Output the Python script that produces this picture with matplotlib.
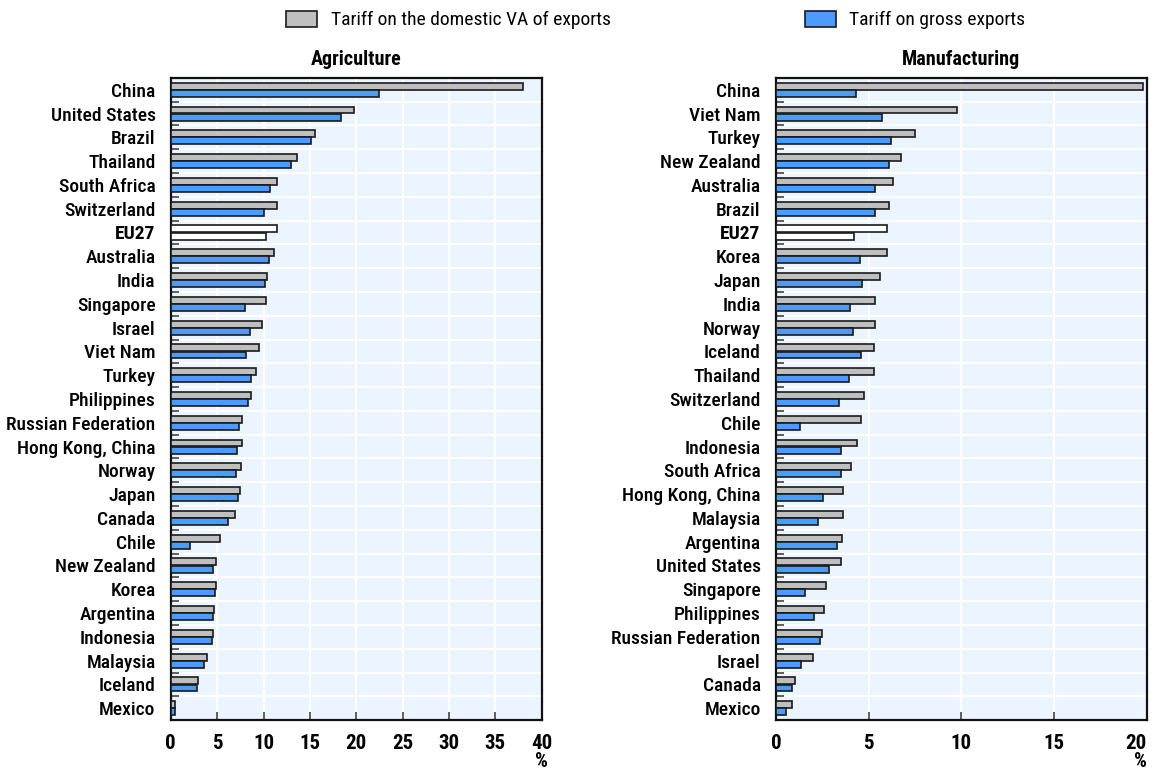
import numpy as np
import matplotlib
matplotlib.use("Agg")
import matplotlib.pyplot as plt
from matplotlib.patches import Patch

plt.rcParams['font.family'] = ['Roboto Condensed', 'Liberation Sans Narrow', 'Roboto', 'DejaVu Sans']

# Agriculture panel (sorted as in the chart, top to bottom)
agri_countries = ["China", "United States", "Brazil", "Thailand", "South Africa", "Switzerland",
                  "EU27", "Australia", "India", "Singapore", "Israel", "Viet Nam", "Turkey",
                  "Philippines", "Russian Federation", "Hong Kong, China", "Norway", "Japan",
                  "Canada", "Chile", "New Zealand", "Korea", "Argentina", "Indonesia",
                  "Malaysia", "Iceland", "Mexico"]
agri_va = [38.0, 19.7, 15.6, 13.6, 11.5, 11.5, 11.4, 11.1, 10.35, 10.3, 9.8, 9.5, 9.15,
           8.7, 7.7, 7.65, 7.6, 7.5, 6.9, 5.35, 4.9, 4.85, 4.7, 4.6, 3.9, 2.9, 0.5]
agri_gross = [22.4, 18.4, 15.1, 13.0, 10.65, 10.0, 10.3, 10.55, 10.2, 8.0, 8.5, 8.1, 8.6,
              8.3, 7.3, 7.1, 7.05, 7.25, 6.2, 2.1, 4.6, 4.75, 4.6, 4.45, 3.55, 2.8, 0.4]

# Manufacturing panel
manu_countries = ["China", "Viet Nam", "Turkey", "New Zealand", "Australia", "Brazil", "EU27",
                  "Korea", "Japan", "India", "Norway", "Iceland", "Thailand", "Switzerland",
                  "Chile", "Indonesia", "South Africa", "Hong Kong, China", "Malaysia",
                  "Argentina", "United States", "Singapore", "Philippines",
                  "Russian Federation", "Israel", "Canada", "Mexico"]
manu_va = [19.8, 9.78, 7.5, 6.75, 6.3, 6.07, 5.98, 5.98, 5.6, 5.33, 5.33, 5.28, 5.28, 4.76,
           4.56, 4.36, 4.07, 3.64, 3.6, 3.55, 3.49, 2.72, 2.57, 2.47, 1.98, 1.0, 0.86]
manu_gross = [4.32, 5.71, 6.2, 6.1, 5.33, 5.33, 4.23, 4.52, 4.66, 4.0, 4.14, 4.57, 3.93, 3.38,
              1.28, 3.53, 3.48, 2.52, 2.25, 3.28, 2.84, 1.57, 2.05, 2.39, 1.35, 0.84, 0.54]

grey = "#BFBFBF"
blue = "#4C9BFF"
bg = "#EBF4FF"

fig = plt.figure(figsize=(11.54, 7.71), dpi=100)
ax1 = fig.add_axes([0.148, 0.066, 0.3215, 0.833])
ax2 = fig.add_axes([0.6724, 0.066, 0.3215, 0.833])


def draw_panel(ax, countries, va, gross, xmax, title, edge_right=False):
    y = np.arange(len(countries))
    h = 0.29
    c_va = [("white" if c == "EU27" else grey) for c in countries]
    c_gr = [("white" if c == "EU27" else blue) for c in countries]
    ax.barh(y - 0.15, va, height=h, color=c_va, edgecolor="#1a1a1a", linewidth=1.2, zorder=3)
    ax.barh(y + 0.15, gross, height=h, color=c_gr, edgecolor="#1a1a1a", linewidth=1.2, zorder=3)
    ax.set_facecolor(bg)
    ax.set_xlim(0, xmax)
    ax.set_ylim(len(countries) - 0.5, -0.5)
    ax.set_xticks(np.arange(0, xmax + 1, 5))
    ax.set_yticks(y)
    ax.set_yticklabels(countries, fontsize=14)
    for lab in ax.get_yticklabels():
        lab.set_fontweight("medium")
        if lab.get_text() == "EU27":
            lab.set_fontweight("bold")
    ax.set_yticks(np.arange(len(countries) - 1) + 0.5, minor=True)
    ax.tick_params(axis="y", which="major", length=0, pad=11)
    ax.tick_params(axis="y", which="minor", direction="in", length=6, width=1.2, color="#444444")
    ax.tick_params(axis="x", direction="in", length=6, width=1.2, color="#444444",
                   labelsize=15, pad=10)
    xl = ax.get_xticklabels()
    for lab in xl:
        lab.set_fontweight("bold")
    if edge_right:
        xl[-1].set_horizontalalignment("right")
    ax.grid(axis="x", color="white", linewidth=1.5, zorder=1)
    ax.grid(axis="y", which="minor", color="white", linewidth=1.5, zorder=1)
    ax.set_axisbelow(True)
    for s in ax.spines.values():
        s.set_linewidth(1.6)
        s.set_color("#111111")
    ax.set_title(title, fontsize=14.5, fontweight="bold", pad=9)
    ax.annotate("%", xy=(1, 0), xycoords="axes fraction", xytext=(0, -30),
                textcoords="offset points", ha=("right" if edge_right else "center"),
                va="center", fontsize=14.5, fontweight="bold")


draw_panel(ax1, agri_countries, agri_va, agri_gross, 40, "Agriculture")
draw_panel(ax2, manu_countries, manu_va, manu_gross, 20, "Manufacturing", edge_right=True)

leg1 = fig.legend(handles=[Patch(facecolor=grey, edgecolor="#1a1a1a", linewidth=1.2,
                                 label="Tariff on the domestic VA of exports")],
                  loc="center left", bbox_to_anchor=(0.233, 0.974), frameon=False,
                  fontsize=14, handlelength=1.6, handleheight=0.9, handletextpad=0.7)
leg2 = fig.legend(handles=[Patch(facecolor=blue, edgecolor="#1a1a1a", linewidth=1.2,
                                 label="Tariff on gross exports")],
                  loc="center left", bbox_to_anchor=(0.682, 0.974), frameon=False,
                  fontsize=14, handlelength=1.6, handleheight=0.9, handletextpad=0.7)

fig.savefig("out.png", dpi=100)
